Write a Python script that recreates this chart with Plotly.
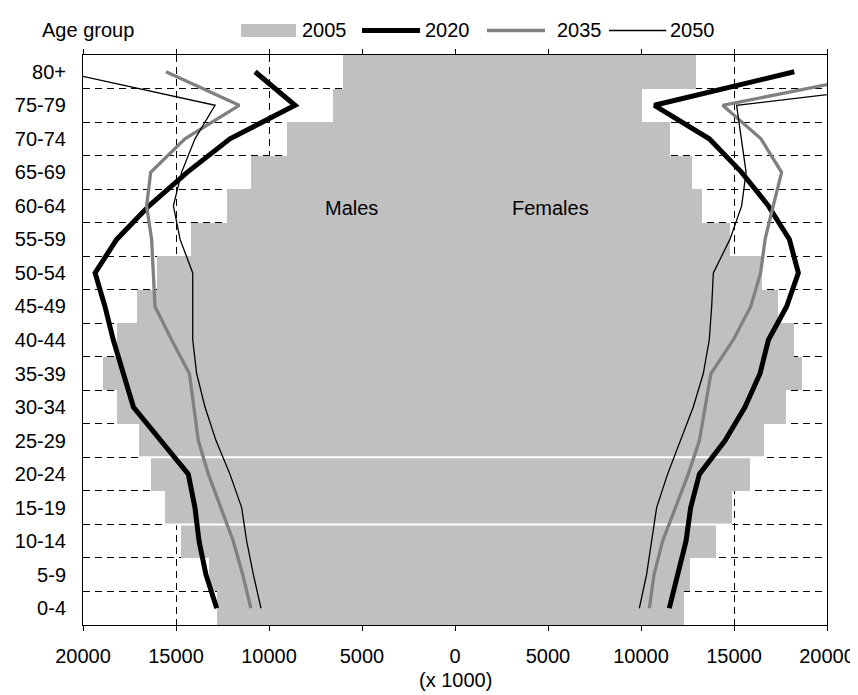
import plotly.graph_objects as go

# age groups, youngest first (values in thousands)
age_groups = ["0-4", "5-9", "10-14", "15-19", "20-24", "25-29", "30-34", "35-39", "40-44",
              "45-49", "50-54", "55-59", "60-64", "65-69", "70-74", "75-79", "80+"]

males_2005 = [12800, 13210, 14730, 15590, 16360, 16970, 18150, 18940, 18150,
              17100, 16000, 14190, 12240, 10970, 9010, 6540, 6000]
females_2005 = [12310, 12630, 14030, 14910, 15860, 16610, 17800, 18660, 18230,
                17380, 16490, 14780, 13300, 12720, 11560, 10070, 12960]

males_2020 = [12810, 13390, 13760, 13980, 14340, 15820, 17290, 17830, 18370,
              18820, 19350, 18190, 16450, 14400, 12100, 8600, 10750]
females_2020 = [11520, 11950, 12420, 12670, 13140, 14520, 15590, 16400, 16850,
                17830, 18460, 17980, 16850, 15410, 13670, 10720, 18240]

males_2035 = [10980, 11410, 11920, 12600, 13260, 13800, 14030, 14280, 15230,
              16130, 16220, 16310, 16580, 16360, 14520, 11600, 15540]
females_2035 = [10450, 10700, 11160, 11830, 12540, 13140, 13440, 13760, 14960,
                15900, 16430, 16670, 17110, 17560, 16450, 14390, 23480]

males_2050 = [10430, 10840, 11200, 11470, 12100, 12850, 13440, 13890, 14100,
              14100, 14100, 14780, 15140, 14700, 13980, 12900, 21130]
females_2050 = [9910, 10300, 10570, 10840, 11430, 12130, 12810, 13350, 13670,
                13800, 13890, 14780, 15410, 15650, 15410, 15140, 30400]

x_ticks = [-20000, -15000, -10000, -5000, 0, 5000, 10000, 15000, 20000]

# the original has two thin white seams through the bars
seam_after = [2, 4]

FONT = "Liberation Sans, Arial, sans-serif"
BAR = "#C0C0C0"
GREY = "#808080"

pos = list(range(len(age_groups)))
bounds = [p - 0.5 for p in pos] + [pos[-1] + 0.5]
y_range = [-0.5, len(age_groups) - 0.5]

fig = go.Figure()

fig.add_trace(go.Bar(y=pos, x=[-v for v in males_2005], orientation="h",
                     marker=dict(color=BAR, line=dict(width=0)), width=1, name="2005"))
fig.add_trace(go.Bar(y=pos, x=females_2005, orientation="h",
                     marker=dict(color=BAR, line=dict(width=0)), width=1, name="2005"))

for i in seam_after:
    left = -max(males_2005[i], males_2005[i + 1])
    right = max(females_2005[i], females_2005[i + 1])
    fig.add_trace(go.Scatter(x=[left, right], y=[i + 0.5, i + 0.5], mode="lines",
                             line=dict(color="white", width=2), hoverinfo="skip"))

styles = {
    "2020": dict(color="black", width=5),
    "2035": dict(color=GREY, width=3.3),
    "2050": dict(color="black", width=1.3),
}
series = {
    "2020": (males_2020, females_2020),
    "2035": (males_2035, females_2035),
    "2050": (males_2050, females_2050),
}
for year, (m, f) in series.items():
    for side in ([-v for v in m], f):
        fig.add_trace(go.Scatter(x=side, y=pos, mode="lines", name=year,
                                 line=dict(styles[year], shape="linear")))

# axes with crossing tick marks (centre line and right border)
tick_axis = dict(overlaying="y", range=y_range, tickmode="array", tickvals=bounds,
                 showticklabels=False, showgrid=False, zeroline=False, showline=True,
                 linecolor="black", linewidth=1, ticklen=5, tickcolor="black",
                 anchor="free", automargin=False)

# page body adds an 8px offset, so the figure is 8px smaller than the window
fig.update_layout(
    width=850, height=687,
    margin=dict(l=75, r=31, t=47, b=70),
    paper_bgcolor="white", plot_bgcolor="white",
    font=dict(family=FONT, size=20, color="black"),
    barmode="overlay", bargap=0,
    showlegend=False,
    xaxis=dict(range=[-20000, 20000], tickmode="array", tickvals=x_ticks,
               ticktext=[str(abs(v)) for v in x_ticks], automargin=False,
               showline=True, linecolor="black", linewidth=1, mirror="ticks",
               ticks="outside", ticklen=5, tickcolor="black", ticklabelstandoff=8,
               showgrid=True, gridcolor="black", gridwidth=1, griddash="7px,5px",
               zeroline=False),
    xaxis2=dict(overlaying="x", range=[-20000, 20000], tickmode="array", tickvals=x_ticks,
                showticklabels=False, showgrid=False, zeroline=False, showline=False,
                ticks="inside", ticklen=5, tickcolor="black", mirror="ticks", anchor="y",
                automargin=False),
    yaxis=dict(range=y_range, tickmode="array", tickvals=pos, ticktext=age_groups,
               ticks="", showline=True, linecolor="black", linewidth=1, mirror=True,
               showgrid=False, zeroline=False, ticklabelstandoff=12, automargin=False,
               minor=dict(tickmode="array", tickvals=bounds, showgrid=True,
                          gridcolor="black", gridwidth=1, griddash="7px,5px", ticks="")),
    yaxis2=dict(tick_axis, position=0.5, side="left", ticks="outside"),
    yaxis3=dict(tick_axis, position=0.5, side="left", ticks="inside"),
    yaxis4=dict(tick_axis, position=1.0, side="right", ticks="outside"),
    yaxis5=dict(tick_axis, position=1.0, side="right", ticks="inside"),
)

fig.add_annotation(text="Males", x=-5540, y=11.95, xref="x", yref="y",
                   showarrow=False, font=dict(size=20))
fig.add_annotation(text="Females", x=5160, y=11.95, xref="x", yref="y",
                   showarrow=False, font=dict(size=20))
fig.add_annotation(text="(x 1000)", x=0.5, y=-0.0965, xref="paper", yref="paper",
                   showarrow=False, xanchor="center", yanchor="middle", font=dict(size=20))
fig.add_annotation(text="Age group", x=-0.058, y=1.043, xref="paper", yref="paper",
                   showarrow=False, xanchor="left", yanchor="middle", font=dict(size=20))

# hand-made legend row along the top
legend_y = 1.043
fig.add_shape(type="rect", xref="paper", yref="paper", x0=0.2124, x1=0.2863,
              y0=1.0316, y1=1.0544, fillcolor=BAR, line=dict(width=0))
legend_lines = [("2020", 0.375, 0.453), ("2035", 0.543, 0.621), ("2050", 0.707, 0.784)]
for year, x0, x1 in legend_lines:
    fig.add_shape(type="line", xref="paper", yref="paper", x0=x0, x1=x1,
                  y0=legend_y, y1=legend_y, line=styles[year])
legend_text = [("2005", 0.2917), ("2020", 0.457), ("2035", 0.6344), ("2050", 0.786)]
for label, x in legend_text:
    fig.add_annotation(text=label, x=x, y=legend_y, xref="paper", yref="paper",
                       showarrow=False, xanchor="left", yanchor="middle", font=dict(size=20))

fig.write_html("out.html")
